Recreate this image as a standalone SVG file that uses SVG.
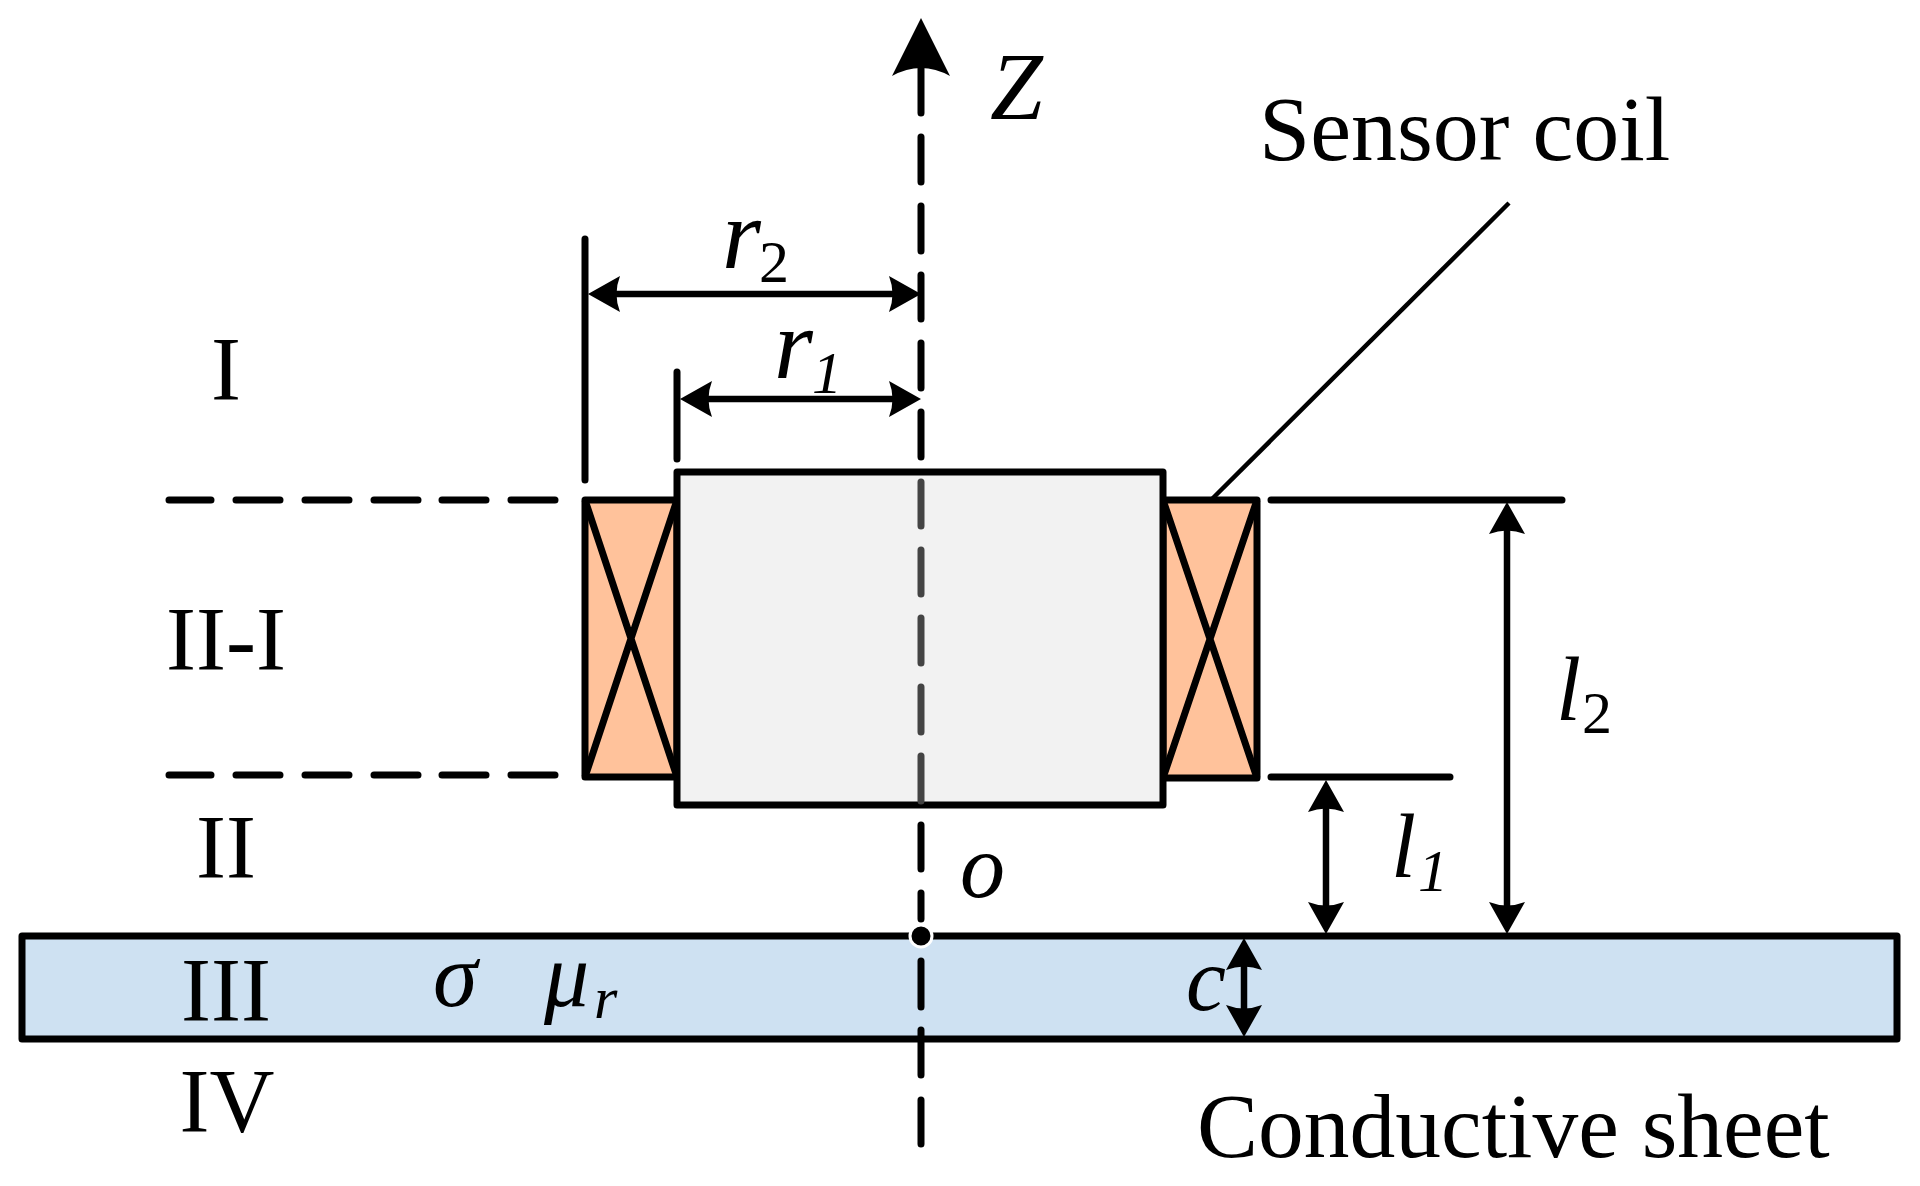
<svg xmlns="http://www.w3.org/2000/svg" width="1920" height="1186" viewBox="0 0 1920 1186">
<style>
.body{stroke:#000;stroke-width:7;stroke-linejoin:round}
.coil{fill:#FFC29B}
.ln{stroke:#000;stroke-width:7;stroke-linecap:round;fill:none}
.gr{stroke:#444;stroke-width:7;stroke-linecap:round;fill:none}
.thin{stroke:#000;stroke-width:4.5;fill:none}
.x{stroke:#000;stroke-width:7;fill:none}
.arr{stroke:#000;stroke-width:6.5;fill:none;marker-start:url(#ah);marker-end:url(#ah)}
text{font-family:"Liberation Serif","Times New Roman",serif;fill:#000}
.r{font-size:90px}
.i{font-size:90px;font-style:italic}
.s{font-size:60px}
.si{font-size:60px;font-style:italic}
</style>
<defs>
<marker id="ah" markerUnits="userSpaceOnUse" markerWidth="34" markerHeight="38" refX="8" refY="19" orient="auto-start-reverse" overflow="visible">
<path d="M0,1 Q7,19 0,37 L32,19 Z" fill="#000"/>
</marker>
</defs>
<rect width="1920" height="1186" fill="#fff"/>
<g id="sheet"><rect class="body" x="22" y="936" width="1875" height="103" fill="#CEE1F2"/></g>
<g id="coil-left">
<rect class="body coil" x="585" y="500" width="92" height="277"/>
<path class="x" d="M585,500 L677,777 M677,500 L585,777"/>
</g>
<g id="coil-right">
<rect class="body coil" x="1163" y="500" width="94" height="278"/>
<path class="x" d="M1163,500 L1257,778 M1257,500 L1163,778"/>
</g>
<g id="core"><rect class="body" x="677" y="472" width="486" height="333" fill="#F2F2F2"/></g>
<g id="connectors">
<g id="axis">
<path d="M921,18 L950,76 Q921,60 892,76 Z" fill="#000"/>
<path class="ln" d="M921,66V113M921,137V182M921,206V251M921,275V319M921,343V388M921,412V457"/>
<path class="gr" d="M921,482V526M921,550V594M921,618V663M921,687V732M921,756V801"/>
<path class="ln" d="M921,825V869M921,893V919M921,961V1007M921,1030V1075M921,1100V1144"/>
</g>
<g id="boundaries">
<path class="ln" d="M169,500H211M236,500H280M305,500H349M374,500H418M442,500H486M511,500H555"/>
<path class="ln" d="M169,775H211M236,775H280M305,775H349M374,775H418M442,775H486M511,775H555"/>
<path class="ln" d="M1271,500H1562M1271,777H1450"/>
<path class="ln" d="M585,239V480M677,372V459"/>
</g>
<path class="thin" d="M1509,203L1212,499"/>
<line class="arr" x1="612" y1="294" x2="897" y2="294"/>
<line class="arr" x1="704" y1="399" x2="897" y2="399"/>
<line class="arr" x1="1507" y1="526" x2="1507" y2="910"/>
<line class="arr" x1="1326" y1="804" x2="1326" y2="910"/>
<line class="arr" x1="1244" y1="962" x2="1244" y2="1013"/>
<circle id="origin" cx="921" cy="936" r="11" fill="#000" stroke="#fff" stroke-width="3"/>
</g>
<g id="labels">
<text class="i" x="990" y="119" style="font-size:95px">Z</text>
<text class="r" x="1259" y="160" style="font-size:92px">Sensor coil</text>
<text class="r" x="1197" y="1157" style="font-size:91.5px">Conductive sheet</text>
<text class="r" x="226" y="400" text-anchor="middle">I</text>
<text class="r" x="226" y="670" text-anchor="middle">II-I</text>
<text class="r" x="226" y="878" text-anchor="middle">II</text>
<text class="r" x="226" y="1021" text-anchor="middle">III</text>
<text class="r" x="227" y="1132" text-anchor="middle">IV</text>
<text class="i" x="722" y="268" style="font-size:100px">r</text><text class="s" x="759" y="282">2</text>
<text class="i" x="774" y="378" style="font-size:100px">r</text><text class="si" x="812" y="393">1</text>
<text class="i" x="1556" y="720">l</text><text class="s" x="1582" y="733">2</text>
<text class="i" x="1391" y="877">l</text><text class="si" x="1418" y="891">1</text>
<text class="i" x="960" y="897">o</text>
<text class="i" x="1186" y="1010">c</text>
<text class="i" x="433" y="1006">σ</text>
<text class="i" x="544" y="1006">μ</text><text class="si" x="594" y="1018">r</text>
</g>
</svg>
